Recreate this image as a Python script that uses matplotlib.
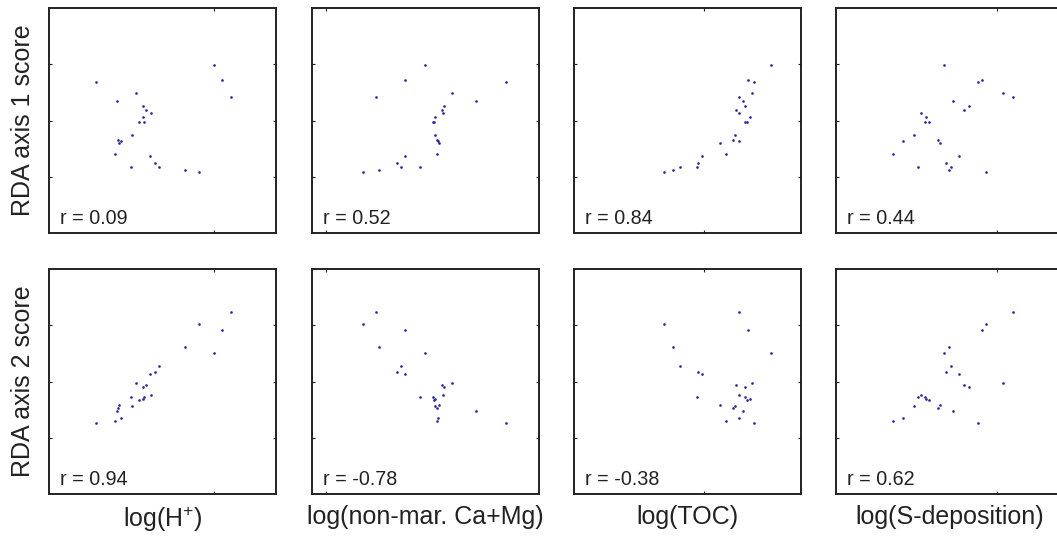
import numpy as np
import matplotlib
matplotlib.use('Agg')
import matplotlib.pyplot as plt

plt.rcParams['font.family'] = ['Liberation Sans', 'DejaVu Sans']
plt.rcParams['mathtext.fontset'] = 'custom'
plt.rcParams['mathtext.rm'] = 'Liberation Sans'

# RDA site scores (standardised), one entry per lake
rda1 = [0.99, 0.72, 0.69, 0.49, 0.42, 0.34, 0.26, 0.18, 0.13, 0.06, -0.02, -0.03,
        -0.25, -0.34, -0.36, -0.40, -0.59, -0.63, -0.75, -0.82, -0.83, -0.88, -0.91]
rda2 = [0.51, 0.91, -0.74, -0.03, 1.24, -0.52, -0.09, -0.06, -0.24, -0.31, -0.28, -0.33,
        -0.44, -0.47, -0.65, -0.41, -0.71, 0.14, 0.17, 0.28, -0.28, 0.62, 1.03]

# explanatory variables (standardised log values), same lake order
log_h = [0.90, 1.05, -1.18, -0.46, 1.20, -0.80, -0.34, -0.29, -0.20, -0.35, -0.33, -0.41,
         -0.53, -0.78, -0.74, -0.76, -0.84, -0.22, -0.13, -0.06, -0.56, 0.40, 0.65]
log_camg = [-0.01, -0.35, 1.42, 0.48, -0.87, 0.89, 0.33, 0.30, 0.31, 0.18, 0.14, 0.16,
            0.18, 0.21, 0.23, 0.25, 0.20, -0.35, -0.49, -0.42, -0.10, -0.81, -1.09]
log_toc = [1.48, 1.07, 1.18, 1.14, 0.91, 0.98, 1.01, 0.85, 0.90, 1.11, 1.02, 1.04,
           0.83, 0.80, 0.90, 0.58, 0.67, 0.26, 0.19, -0.14, 0.16, -0.25, -0.42]
log_sdep = [-0.10, 0.58, 0.50, 0.95, 1.12, 0.07, 0.34, 0.26, -0.51, -0.41, -0.44, -0.37,
            -0.63, -0.21, -0.82, -0.16, -0.99, 0.16, -0.06, 0.02, -0.55, 0.00, 0.65]

xvars = [log_h, log_camg, log_toc, log_sdep]
xlabels = ['log(H$^{+}$)', 'log(non-mar. Ca+Mg)', 'log(TOC)', 'log(S-deposition)']
xtick_pos = [0.90, -1.75, 0.29, 0.84]
ylabels = ['RDA axis 1 score', 'RDA axis 2 score']
r_top = ['r = 0.09', 'r = 0.52', 'r = 0.84', 'r = 0.44']
r_bottom = ['r = 0.94', 'r = -0.78', 'r = -0.38', 'r = 0.62']

W, H = 1057, 536
fig = plt.figure(figsize=(W / 100, H / 100), dpi=100)

lefts = [49, 311.7, 574, 836]
tops = [8, 269]
aw, ah = 227, 225

for row, (yvals, rlabels) in enumerate([(rda1, r_top), (rda2, r_bottom)]):
    for col in range(4):
        ax = fig.add_axes([lefts[col] / W, (H - tops[row] - ah) / H, aw / W, ah / H])
        ax.plot(xvars[col], yvals, 'o', ms=1.9, mew=0, color='#26269a')
        ax.set_xlim(-2, 2)
        ax.set_ylim(-2, 2)
        ax.set_xticks([xtick_pos[col]])
        ax.set_yticks([-1, 0, 1])
        ax.tick_params(direction='in', length=2.5, width=0.8, top=True, right=True,
                       labelbottom=False, labelleft=False, colors='#222222')
        for s in ax.spines.values():
            s.set_linewidth(1.4)
            s.set_color('#222222')
        ax.text(0.05, 0.022, rlabels[col], transform=ax.transAxes, fontsize=14.2,
                ha='left', va='bottom', color='#222222')
        if col == 0:
            ax.set_ylabel(ylabels[row], fontsize=18, labelpad=10, color='#222222')
        if row == 1:
            ax.set_xlabel(xlabels[col], fontsize=18, labelpad=8, color='#222222')

fig.savefig('out.png', dpi=100)
